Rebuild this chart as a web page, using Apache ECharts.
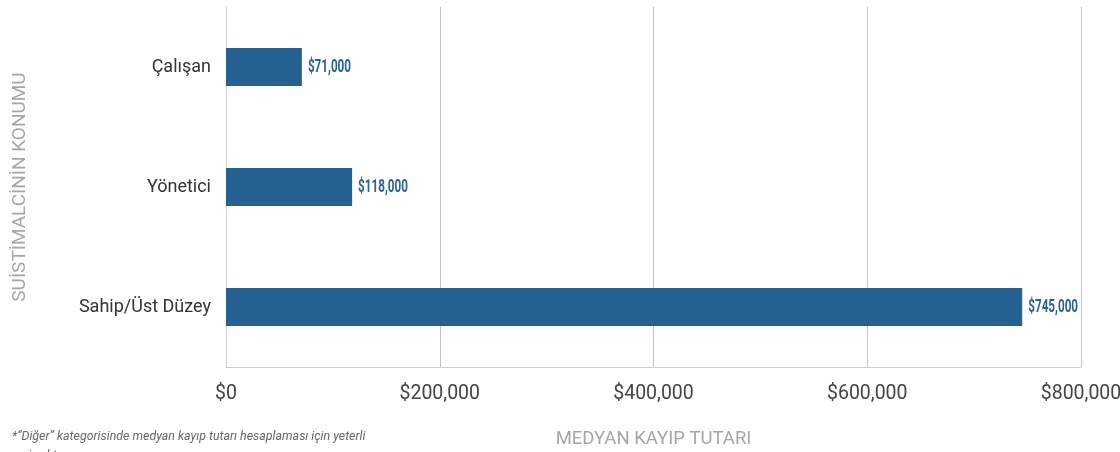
<!DOCTYPE html>
<html>
<head>
<meta charset="utf-8">
<script src="https://cdn.jsdelivr.net/npm/echarts@6/dist/echarts.min.js"></script>
<style>html,body{margin:0;padding:0;background:#fff}#c{width:1120px;height:452px}</style>
</head>
<body>
<div id="c"></div>
<script>
const categories = ["Çalışan", "Yönetici", "Sahip/Üst Düzey"];
const values = [71000, 118000, 745000];
const xTicks = [0, 200000, 400000, 600000, 800000];

const fmt = v => '$' + v.toLocaleString('en-US');
const chart = echarts.init(document.getElementById('c'));
chart.setOption({
  animation: false,
  grid: {left: 226, right: 39, top: 7, bottom: 85, outerBoundsMode: 'none', containLabel: false},
  xAxis: {
    type: 'value', min: 0, max: 800000, interval: 200000,
    name: 'MEDYAN KAYIP TUTARI', nameLocation: 'middle', nameGap: 63,
    nameTextStyle: {color: '#a6a6a6', fontFamily: 'Roboto', fontSize: 18.5},
    axisLine: {show: true, lineStyle: {color: '#cfcfcf', width: 1}},
    axisTick: {show: false},
    splitLine: {show: true, lineStyle: {color: '#c4c4c4', width: 1}},
    axisLabel: {color: '#444', fontFamily: 'Roboto', fontSize: 19.5, margin: 17,
      formatter: v => xTicks.includes(v) ? fmt(v) : ''}
  },
  yAxis: {
    type: 'category', data: categories, inverse: true,
    name: 'SUİSTİMALCİNİN KONUMU', nameLocation: 'middle', nameGap: 196, nameRotate: 90,
    nameTextStyle: {color: '#a6a6a6', fontFamily: 'Roboto', fontSize: 19},
    axisLine: {show: true, lineStyle: {color: '#cfcfcf', width: 1}},
    axisTick: {show: false},
    axisLabel: {color: '#333', fontFamily: 'Roboto', fontSize: 18, margin: 15}
  },
  series: [{
    type: 'bar', data: values, barWidth: 38,
    itemStyle: {color: '#256190'}
  }, {
    type: 'custom', data: values.map((v, i) => [v, i]),
    encode: {x: 0, y: 1},
    renderItem: (params, api) => {
      const p = api.coord([api.value(0), api.value(1)]);
      return {
        type: 'text', x: p[0] + 6, y: p[1], scaleX: 0.65,
        style: {text: fmt(api.value(0)), fill: '#2b6296', fontFamily: 'Roboto',
          fontWeight: 'bold', fontSize: 18, textVerticalAlign: 'middle', textAlign: 'left',
          verticalAlign: 'middle', align: 'left'}
      };
    }
  }],
  graphic: [
    {type: 'text', left: 12, top: 431, style: {
      text: '*“Diğer” kategorisinde medyan kayıp tutarı hesaplaması için yeterli',
      fill: '#666', font: 'italic 12.4px Roboto'}},
    {type: 'text', left: 12, top: 450, style: {
      text: 'veri yoktur.', fill: '#666', font: 'italic 12.4px Roboto'}}
  ]
});
</script>
</body>
</html>
